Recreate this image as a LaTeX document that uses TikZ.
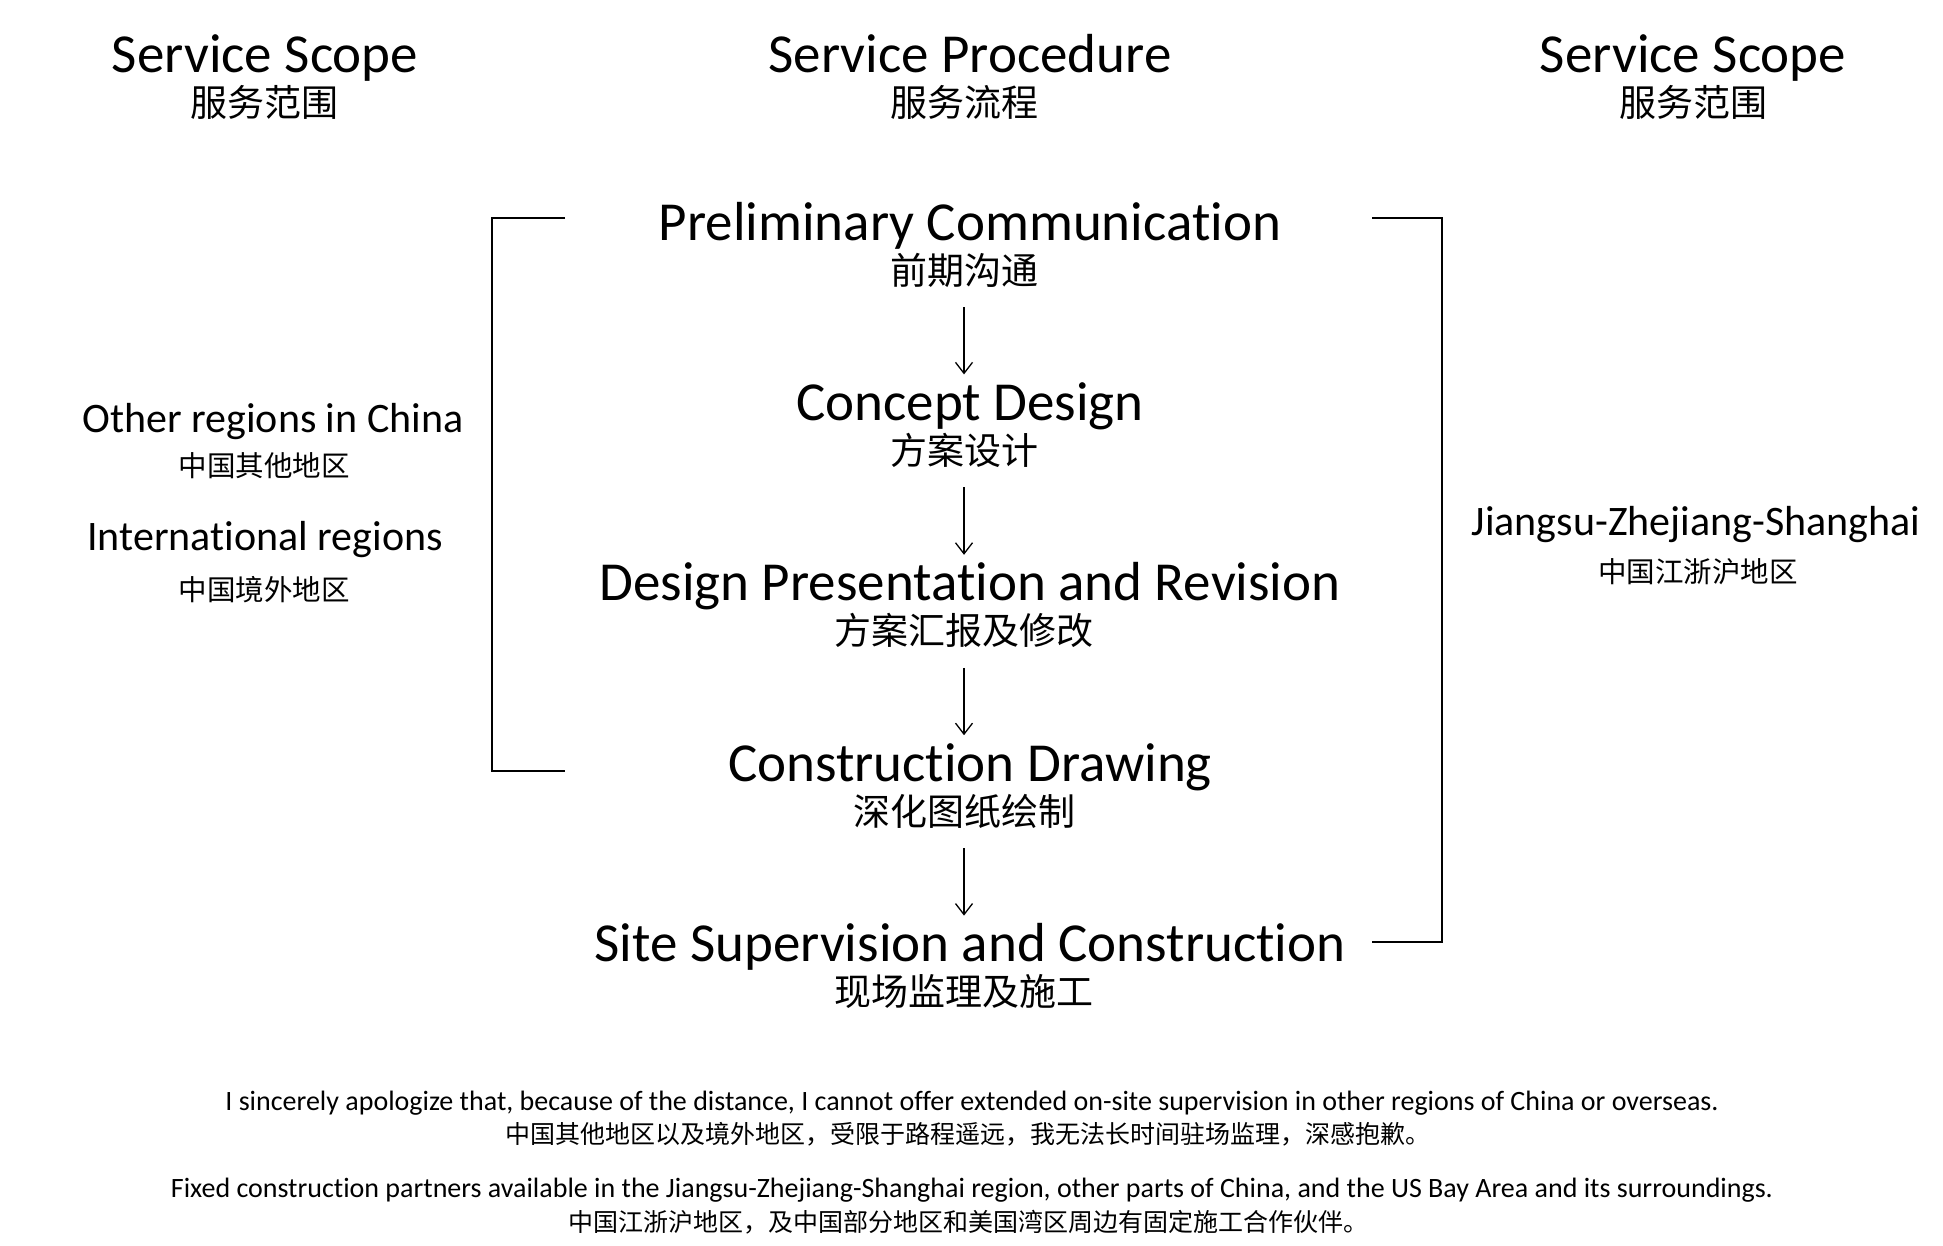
\documentclass[tikz,border=0pt]{standalone}
\usepackage{fontspec}
\setmainfont{Carlito}[Ligatures=NoCommon]
\newfontfamily\cjk{Noto Sans CJK SC}
\usetikzlibrary{arrows.meta}

\begin{document}
\begin{tikzpicture}[x=1pt, y=-1pt,
      every node/.style={inner sep=0pt, outer sep=0pt, text=black, anchor=base},
      head/.style={font=\fontsize{55}{60}\selectfont},
      headcn/.style={font=\cjk\fontsize{37}{40}\selectfont},
      stepbox/.style={font=\fontsize{55}{60}\selectfont, text height=38pt},
      stepcn/.style={font=\cjk\fontsize{37}{40}\selectfont, text depth=5pt},
      region/.style={font=\fontsize{42}{48}\selectfont},
      regioncn/.style={font=\cjk\fontsize{28.5}{32}\selectfont},
      note/.style={font=\fontsize{28}{30}\selectfont},
      notecn/.style={font=\cjk\fontsize{25}{30}\selectfont},
      flow/.style={-{Straight Barb[length=11pt, width=17pt]}, line width=1.3pt,
                   shorten <=18pt, shorten >=8pt},
      bracket/.style={line width=1.4pt}
    ]
    \useasboundingbox (0,0) rectangle (1943,1245);

    % column heads
    \node[head]   (scopeL)   at (265,72)   {Service Scope};
    \node[headcn] (scopeLcn) at (264,116)  {服务范围};
    \node[head]   (proc)     at (970,72)   {Service Procedure};
    \node[headcn] (proccn)   at (964,116)  {服务流程};
    \node[head]   (scopeR)   at (1693,72)  {Service Scope};
    \node[headcn] (scopeRcn) at (1693,116) {服务范围};

    % procedure steps
    \node[stepbox] (prelim)    at (970,240)   {Preliminary Communication};
    \node[stepcn]  (prelimcn)  at (964,284)   {前期沟通};
    \node[stepbox] (concept)   at (970,420.4) {Concept Design};
    \node[stepcn]  (conceptcn) at (964,464.4) {方案设计};
    \node[stepbox] (present)   at (970,600.8) {Design Presentation and Revision};
    \node[stepcn]  (presentcn) at (964,644.8) {方案汇报及修改};
    \node[stepbox] (drawing)   at (970,781.2) {Construction Drawing};
    \node[stepcn]  (drawingcn) at (964,825.2) {深化图纸绘制};
    \node[stepbox] (site)      at (970,961.6) {Site Supervision and Construction};
    \node[stepcn]  (sitecn)    at (964,1005.6){现场监理及施工};

    \draw[flow] (prelimcn.south)  -- (prelimcn.south |- concept.north);
    \draw[flow] (conceptcn.south) -- (conceptcn.south |- present.north);
    \draw[flow] (presentcn.south) -- (presentcn.south |- drawing.north);
    \draw[flow] (drawingcn.south) -- (drawingcn.south |- site.north);

    % scope brackets
    \draw[bracket] (565,218) -- (492,218) -- (492,771) -- (565,771);
    \draw[bracket] (1372,218) -- (1442,218) -- (1442,942) -- (1372,942);

    % regions
    \node[region]   (other)   at (273,432) {Other regions in China};
    \node[regioncn] (othercn) at (264,476) {中国其他地区};
    \node[region]   (intl)    at (265,550) {International regions};
    \node[regioncn] (intlcn)  at (264,600) {中国境外地区};
    \node[region]   (jzs)     at (1696,535) {Jiangsu-Zhejiang-Shanghai};
    \node[regioncn] (jzscn)   at (1698,582) {中国江浙沪地区};

    % notes
    \node[note]   (note1)   at (972,1110) {I sincerely apologize that, because of the distance, I cannot offer extended on-site supervision in other regions of China or overseas.};
    \node[notecn] (note1cn) at (968,1143) {中国其他地区以及境外地区，受限于路程遥远，我无法长时间驻场监理，深感抱歉。};
    \node[note]   (note2)   at (972,1197) {Fixed construction partners available in the Jiangsu-Zhejiang-Shanghai region, other parts of China, and the US Bay Area and its surroundings.};
    \node[notecn] (note2cn) at (968,1231) {中国江浙沪地区，及中国部分地区和美国湾区周边有固定施工合作伙伴。};
  \end{tikzpicture}
\end{document}
